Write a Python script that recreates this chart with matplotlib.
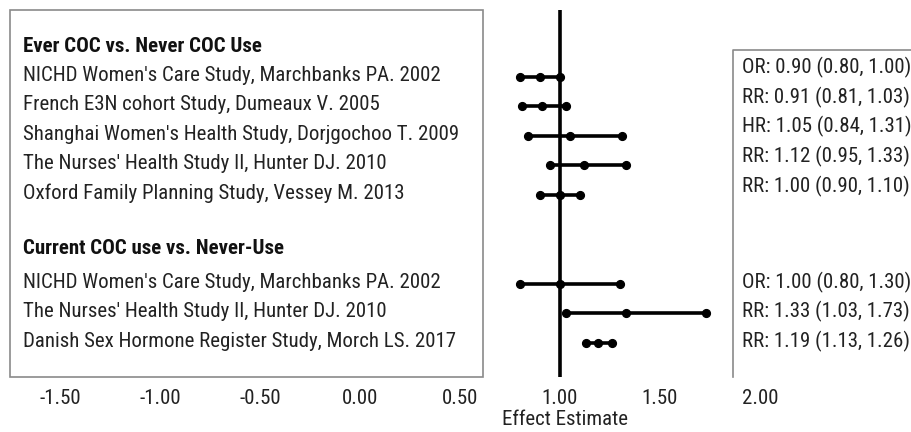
import matplotlib

matplotlib.use("Agg")
import matplotlib.pyplot as plt
from matplotlib.patches import Rectangle
from matplotlib.lines import Line2D

plt.rcParams["font.family"] = ["Roboto Condensed", "Archivo Narrow", "PT Sans Narrow",
                               "IBM Plex Sans Condensed", "DejaVu Sans"]

# Forest-plot data
header_ever = "Ever COC vs. Never COC Use"
header_current = "Current COC use vs. Never-Use"

studies_ever = [
    "NICHD Women's Care Study, Marchbanks PA. 2002",
    "French E3N cohort Study, Dumeaux V. 2005",
    "Shanghai Women's Health Study, Dorjgochoo T. 2009",
    "The Nurses' Health Study II, Hunter DJ. 2010",
    "Oxford Family Planning Study, Vessey M. 2013",
]
measure_ever = ["OR", "RR", "HR", "RR", "RR"]
est_ever = [0.90, 0.91, 1.05, 1.12, 1.00]
low_ever = [0.80, 0.81, 0.84, 0.95, 0.90]
high_ever = [1.00, 1.03, 1.31, 1.33, 1.10]

studies_current = [
    "NICHD Women's Care Study, Marchbanks PA. 2002",
    "The Nurses' Health Study II, Hunter DJ. 2010",
    "Danish Sex Hormone Register Study, Morch LS. 2017",
]
measure_current = ["OR", "RR", "RR"]
est_current = [1.00, 1.33, 1.19]
low_current = [0.80, 1.03, 1.13]
high_current = [1.30, 1.73, 1.26]

xticks = [-1.5, -1.0, -0.5, 0.0, 0.5, 1.0, 1.5, 2.0]

# row layout (in row units, top to bottom)
y_header_ever = 0.0
y_ever = [1, 2, 3, 4, 5]
y_header_current = 6.8
y_current = [8, 9, 10]

W, H = 911, 432
fig = plt.figure(figsize=(W / 100, H / 100), dpi=100)
# axes spans the full width, from y=10px to y=377px; 200 px per unit, 0 at x=360px
ax = fig.add_axes([0, (H - 377) / H, 1, (377 - 10) / H])
ax.set_xlim(-360 / 200, (W - 360) / 200)
row_px = 29.6
ax.set_ylim((377 - 47) / row_px, -37 / row_px)

for s in ax.spines.values():
    s.set_visible(False)
ax.set_yticks([])
ax.set_xticks(xticks)
ax.set_xticklabels([f"{t:.2f}" for t in xticks], fontsize=15, color="#222222")
ax.tick_params(axis="x", length=0, pad=9)
ax.set_xlabel("Effect Estimate", fontsize=15, color="#222222", labelpad=1)
ax.xaxis.label.set_x(565 / W)

# boxes
fig.patches.append(Rectangle((10, H - 377), 473, 367, fill=False, edgecolor="#8a8a8a",
                             linewidth=1.2, transform=None))
fig.lines.append(Line2D([733, 733, W], [H - 377, H - 50, H - 50], color="#8a8a8a",
                        linewidth=1.2, transform=None))

# reference line at 1.00
ax.axvline(1.0, color="black", linewidth=2.6, zorder=3)

label_x = -1.685
ax.text(label_x, y_header_ever, header_ever, fontsize=15, fontweight="bold",
        va="center", ha="left", color="#111111")
ax.text(label_x, y_header_current, header_current, fontsize=15, fontweight="bold",
        va="center", ha="left", color="#111111")


def draw_group(ys, names, measures, est, low, high, text_shift):
    for y, name, m, e, lo, hi in zip(ys, names, measures, est, low, high):
        ax.text(label_x, y - 0.05, name, fontsize=15, va="center", ha="left", color="#222222")
        ax.plot([lo, hi], [y, y], color="black", linewidth=2.6, zorder=4)
        ax.plot([lo, e, hi], [y, y, y], "o", color="black", markersize=5.6, zorder=5)
        ax.text(1.91, y + text_shift, f"{m}: {e:.2f} ({lo:.2f}, {hi:.2f})", fontsize=15,
                va="center", ha="left", color="#222222")


draw_group(y_ever, studies_ever, measure_ever, est_ever, low_ever, high_ever, -0.3)
draw_group(y_current, studies_current, measure_current, est_current, low_current, high_current,
           -0.05)

fig.savefig("out.png", dpi=100)
